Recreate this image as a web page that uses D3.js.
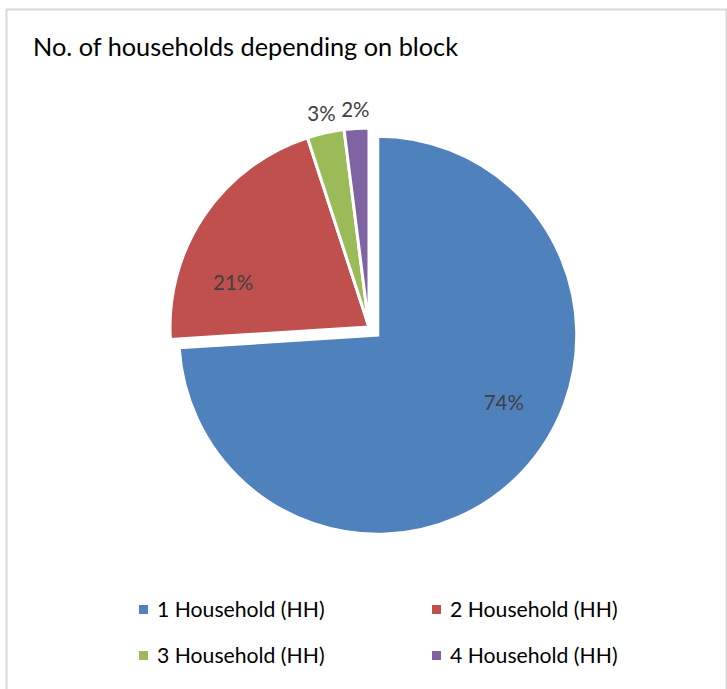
<!DOCTYPE html>
<html>
<head>
<meta charset="utf-8">
<script src="https://cdn.jsdelivr.net/npm/d3@7"></script>
<style>
  body { margin: 0; background: #fff; }
  svg { display: block; font-family: Lato, "Open Sans", sans-serif; }
</style>
</head>
<body>
<div id="chart"></div>
<script>
// Pie chart - households per block

var categories = ['1 Household (HH)', '2 Household (HH)', '3 Household (HH)', '4 Household (HH)'];
var shares = [74, 21, 3, 2];
var colours = ['#4F81BD', '#C0504D', '#9BBB59', '#8064A2'];
var title = 'No. of households depending on block';

var svgWidth = 727, svgHeight = 689;

var svg = d3.select('#chart').append('svg')
    .attr('width', svgWidth)
    .attr('height', svgHeight);

// chart area border (open at the bottom, like the cropped original)
svg.append('path')
    .attr('d', 'M6.5,' + svgHeight + ' V9.5 H726.5 V' + svgHeight)
    .attr('fill', 'none')
    .attr('stroke', '#d9d9d9')
    .attr('stroke-width', 2);

svg.append('text')
    .attr('x', 33)
    .attr('y', 56)
    .style('font-size', '25.3px')
    .attr('fill', '#000')
    .text(title);

var cx = 369, cy = 327, radius = 199;
var explodeFirst = 12;

var pie = d3.pie().sort(null).value(d => d);
var arcs = pie(shares);

var arc = d3.arc().innerRadius(0).outerRadius(radius);

function offset(d, i) {
    if (i != 0) return [0, 0];
    var a = (d.startAngle + d.endAngle) / 2;
    return [Math.sin(a) * explodeFirst, -Math.cos(a) * explodeFirst];
}

var g = svg.append('g')
    .attr('transform', 'translate(' + cx + ',' + cy + ')');

g.selectAll('path.slice')
    .data(arcs)
    .enter().append('path')
        .attr('class', 'slice')
        .attr('d', arc)
        .attr('transform', (d, i) => 'translate(' + offset(d, i) + ')')
        .attr('fill', (d, i) => colours[i])
        .attr('stroke', '#fff')
        .attr('stroke-width', 3)
        .attr('stroke-linejoin', 'miter');

// labels: big slices inside, small slices just outside
var labelShift = [-15, -16, 0, 0]; // degrees, best-fit style nudge
function labelPos(d, i) {
    var a = (d.startAngle + d.endAngle) / 2 + labelShift[i] * Math.PI / 180;
    var o = offset(d, i);
    var r = (d.endAngle - d.startAngle) > 0.5 ? 143 : radius + 19;
    return [o[0] + Math.sin(a) * r, o[1] - Math.cos(a) * r];
}

g.selectAll('text.lbl')
    .data(arcs)
    .enter().append('text')
        .attr('class', 'lbl')
        .attr('x', (d, i) => labelPos(d, i)[0])
        .attr('y', (d, i) => labelPos(d, i)[1])
        .attr('dy', '0.35em')
        .attr('text-anchor', 'middle')
        .attr('fill', '#404040')
        .style('font-size', '20.5px')
        .text(d => d.data + '%');

// Legend, two columns
var legendX = d3.scaleOrdinal().domain([0, 1]).range([139, 432]);
var legendY = d3.scaleOrdinal().domain([0, 1]).range([610, 656]);

var legend = svg.selectAll('g.legend')
    .data(categories)
    .enter().append('g')
        .attr('class', 'legend')
        .attr('transform', (d, i) => 'translate(' + legendX(i % 2) + ',' + legendY(Math.floor(i / 2)) + ')');

legend.append('rect')
    .attr('x', 0)
    .attr('y', -5)
    .attr('width', 9)
    .attr('height', 9)
    .attr('fill', (d, i) => colours[i]);

legend.append('text')
    .attr('x', 18)
    .attr('y', 0)
    .attr('dy', '0.35em')
    .style('font-size', '21.2px')
    .attr('fill', '#000')
    .text(d => d);
</script>
</body>
</html>
